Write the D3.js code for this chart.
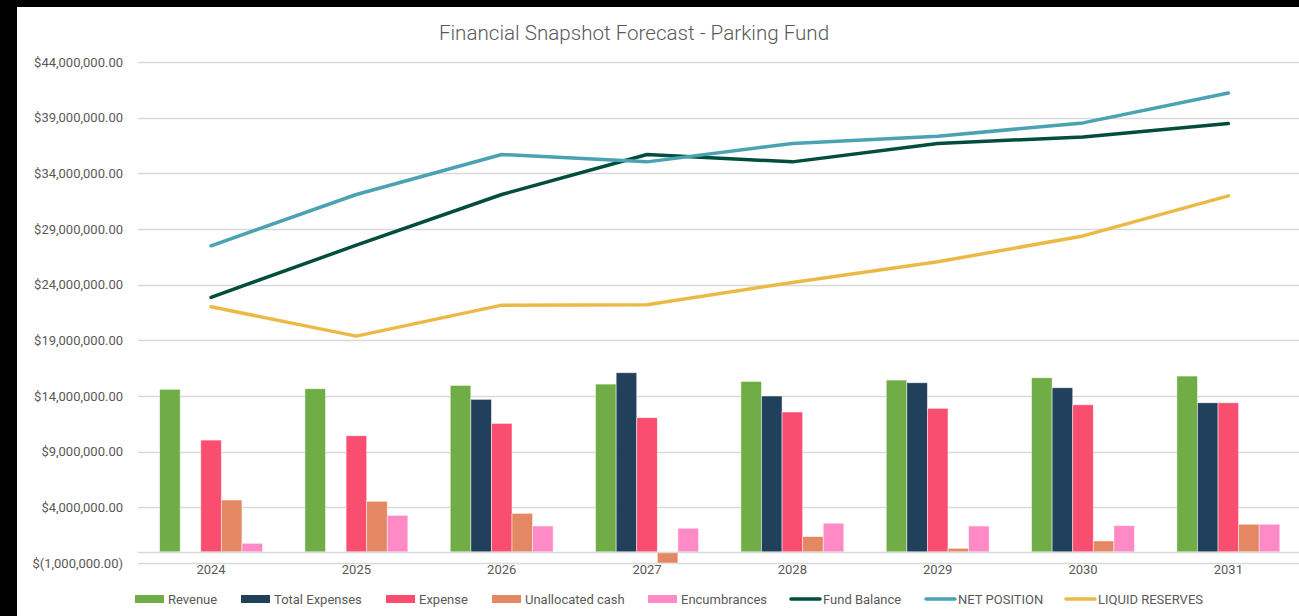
<!DOCTYPE html>
<html>
<head>
<meta charset="utf-8">
<script src="https://cdn.jsdelivr.net/npm/d3@7"></script>
<style>
  html, body { margin: 0; padding: 0; background: #000; }
  svg { display: block; font-family: Roboto, "Noto Sans", sans-serif; }
  .tick-label { fill: #595959; font-size: 13px; }
  .legend-text { fill: #595959; font-size: 13px; }
  .title { fill: #595959; font-size: 20.6px; font-weight: 300; }
</style>
</head>
<body>
<svg id="chart" width="1299" height="616"></svg>
<script>
  const W = 1299;
  const H = 616;

  const years = ['2024', '2025', '2026', '2027', '2028', '2029', '2030', '2031'];

  const revenue       = [14.6, 14.65, 14.95, 15.07, 15.31, 15.43, 15.64, 15.79].map(v => v * 1e6);
  const totalExpenses = [0, 0, 13.7, 16.09, 14.0, 15.19, 14.74, 13.39].map(v => v * 1e6);
  const expense       = [10.04, 10.43, 11.54, 12.05, 12.56, 12.89, 13.21, 13.39].map(v => v * 1e6);
  const unallocated   = [4.66, 4.54, 3.46, -1.0, 1.37, 0.32, 0.98, 2.48].map(v => v * 1e6);
  const encumbrances  = [0.77, 3.28, 2.32, 2.12, 2.57, 2.32, 2.35, 2.48].map(v => v * 1e6);

  const fundBalance    = [22.86, 27.55, 32.1, 35.69, 35.03, 36.68, 37.27, 38.47].map(v => v * 1e6);
  const netPosition    = [27.49, 32.1, 35.69, 35.03, 36.68, 37.33, 38.53, 41.22].map(v => v * 1e6);
  const liquidReserves = [22.01, 19.38, 22.16, 22.2, 24.2, 26.05, 28.38, 31.98].map(v => v * 1e6);

  const yTicks = [-1, 4, 9, 14, 19, 24, 29, 34, 39, 44].map(v => v * 1e6);

  const barSeries = [
    { name: 'Revenue', values: revenue, color: '#70ad47' },
    { name: 'Total Expenses', values: totalExpenses, color: '#21405b' },
    { name: 'Expense', values: expense, color: '#f94e6f' },
    { name: 'Unallocated cash', values: unallocated, color: '#e38862' },
    { name: 'Encumbrances', values: encumbrances, color: '#ff8ac6' }
  ];
  const lineSeries = [
    { name: 'Fund Balance', values: fundBalance, color: '#024d3b' },
    { name: 'NET POSITION', values: netPosition, color: '#4aa2b2' },
    { name: 'LIQUID RESERVES', values: liquidReserves, color: '#ebba46' }
  ];

  const svg = d3.select('#chart');

  // black frame on top/left, white chart area
  svg.append('rect').attr('width', W).attr('height', H).attr('fill', '#000');
  svg.append('rect').attr('x', 17).attr('y', 7).attr('width', W - 17).attr('height', H - 7).attr('fill', '#fff');

  const x = d3.scaleBand().domain(years).range([138.4, 1301]);
  const x1 = d3.scaleBand().domain(barSeries.map(s => s.name))
    .range([0, x.bandwidth()]).paddingInner(0).paddingOuter(1.03);
  const y = d3.scaleLinear().domain([-1e6, 44e6]).range([563, 62]);

  const fmt = d3.format(',.2f');
  const money = v => v < 0 ? '$(' + fmt(-v) + ')' : '$' + fmt(v);

  // gridlines
  const grid = svg.append('g');
  grid.selectAll('line')
    .data(yTicks)
    .join('line')
    .attr('x1', 138).attr('x2', W)
    .attr('y1', d => Math.round(y(d)) + 0.5)
    .attr('y2', d => Math.round(y(d)) + 0.5)
    .attr('stroke', '#d9d9d9')
    .attr('stroke-width', 1.3);

  svg.append('g').selectAll('text')
    .data(yTicks)
    .join('text')
    .attr('class', 'tick-label')
    .attr('x', 123)
    .attr('y', d => y(d))
    .attr('dy', '0.35em')
    .attr('text-anchor', 'end')
    .text(money);

  // bars
  const groups = svg.append('g').selectAll('g')
    .data(barSeries)
    .join('g')
    .attr('fill', d => d.color);

  groups.selectAll('rect')
    .data(s => s.values.map((v, i) => ({ year: years[i], value: v, name: s.name })))
    .join('rect')
    .filter(d => d.value !== 0)
    .attr('x', d => x(d.year) + x1(d.name))
    .attr('width', x1.bandwidth())
    .attr('y', d => y(Math.max(0, d.value)))
    .attr('height', d => Math.abs(y(d.value) - y(0)))
    .attr('stroke', '#fff')
    .attr('stroke-opacity', 0.6)
    .attr('stroke-width', 0.8);

  // category axis line at zero
  svg.append('line')
    .attr('x1', 138).attr('x2', W)
    .attr('y1', Math.round(y(0)) + 0.5).attr('y2', Math.round(y(0)) + 0.5)
    .attr('stroke', '#d9d9d9')
    .attr('stroke-width', 1.3);

  svg.append('g').selectAll('text')
    .data(years)
    .join('text')
    .attr('class', 'tick-label')
    .attr('x', d => x(d) + x.bandwidth() / 2)
    .attr('y', 574)
    .attr('text-anchor', 'middle')
    .text(d => d);

  // lines
  const line = d3.line()
    .x((d, i) => x(years[i]) + x.bandwidth() / 2)
    .y(d => y(d));

  svg.append('g').selectAll('path')
    .data(lineSeries)
    .join('path')
    .attr('d', d => line(d.values))
    .attr('fill', 'none')
    .attr('stroke', d => d.color)
    .attr('stroke-width', 3.5)
    .attr('stroke-linecap', 'round')
    .attr('stroke-linejoin', 'round');

  // title
  svg.append('text')
    .attr('class', 'title')
    .attr('x', 634)
    .attr('y', 40)
    .attr('text-anchor', 'middle')
    .text('Financial Snapshot Forecast - Parking Fund');

  // legend
  const legendX = [135, 241, 386, 492, 648, 790, 925, 1065];
  const legendItems = barSeries.map(s => ({ ...s, type: 'bar' }))
    .concat(lineSeries.map(s => ({ ...s, type: 'line' })));

  const leg = svg.append('g').selectAll('g')
    .data(legendItems)
    .join('g')
    .attr('transform', (d, i) => `translate(${legendX[i]}, 599)`);

  leg.filter(d => d.type === 'bar').append('rect')
    .attr('x', 0).attr('y', -4).attr('width', 29).attr('height', 8)
    .attr('fill', d => d.color);

  leg.filter(d => d.type === 'line').append('line')
    .attr('x1', 1).attr('x2', 30).attr('y1', 0).attr('y2', 0)
    .attr('stroke', d => d.color)
    .attr('stroke-width', 3.5)
    .attr('stroke-linecap', 'round');

  leg.append('text')
    .attr('class', 'legend-text')
    .attr('x', 33)
    .attr('y', 0)
    .attr('dy', '0.35em')
    .text(d => d.name);
</script>
</body>
</html>
